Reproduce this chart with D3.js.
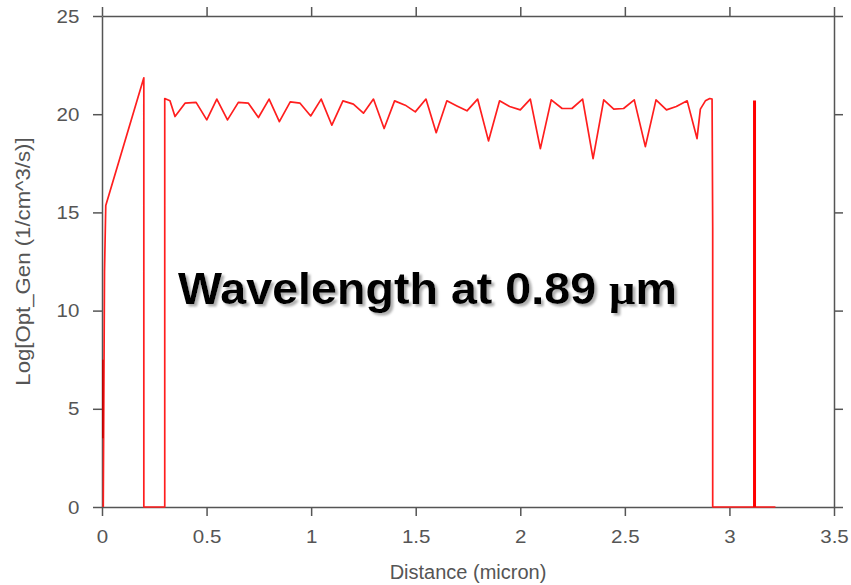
<!DOCTYPE html>
<html>
<head>
<meta charset="utf-8">
<script src="https://cdn.jsdelivr.net/npm/d3@7"></script>
<style>
  body { margin: 0; background: #fff; }
  svg { display: block; font-family: "Liberation Sans", Arial, sans-serif; }
</style>
</head>
<body>
<script>
// Optical generation profile along the device, log scale
const width = 851, height = 585;
const margin = { top: 16, right: 17, bottom: 78, left: 102 };

// main trace (micron, log10 of 1/cm^3/s)
const distX = [0.006, 0.012, 0.018, 0.2, 0.2, 0.3, 0.3,
    0.325, 0.349, 0.397, 0.45, 0.501, 0.549, 0.6, 0.652, 0.7, 0.748, 0.799, 0.848, 0.9, 0.947,
    0.998, 1.048, 1.099, 1.152, 1.202, 1.25, 1.298, 1.349, 1.399, 1.45, 1.498, 1.549, 1.598,
    1.649, 1.697, 1.745, 1.796, 1.848, 1.901, 1.949, 2.0, 2.048, 2.096, 2.148, 2.2, 2.247,
    2.298, 2.348, 2.399, 2.447, 2.494, 2.545, 2.598, 2.649, 2.699, 2.746, 2.798, 2.845,
    2.861, 2.885, 2.906, 2.917, 2.92, 2.92, 3.22];
const genY = [0, 12, 15.35, 21.85, 0, 0, 20.8,
    20.68, 19.88, 20.56, 20.6, 19.71, 20.77, 19.71, 20.6, 20.56, 19.83, 20.77, 19.62, 20.63, 20.56,
    19.91, 20.77, 19.44, 20.68, 20.51, 20.05, 20.77, 19.27, 20.68, 20.46, 20.12, 20.77, 19.06,
    20.68, 20.42, 20.17, 20.77, 18.64, 20.68, 20.39, 20.22, 20.77, 18.25, 20.73, 20.29, 20.29,
    20.77, 17.74, 20.73, 20.26, 20.29, 20.73, 18.35, 20.73, 20.22, 20.39, 20.68, 18.76,
    20.26, 20.68, 20.8, 20.77, 14.2, 0, 0];

// narrow spike near the back contact
const spikeX = [3.12, 3.12];
const spikeY = [0, 20.7];

// darker overlap at the front surface
const frontX = [0.004, 0.004];
const frontY = [3.5, 7.5];

const xTicks = [0, 0.5, 1, 1.5, 2, 2.5, 3, 3.5];
const yTicks = [0, 5, 10, 15, 20, 25];

const svg = d3.select("body").append("svg")
    .attr("width", width)
    .attr("height", height);

const defs = svg.append("defs");
defs.append("filter").attr("id", "shadow")
    .attr("x", "-5%").attr("y", "-20%").attr("width", "110%").attr("height", "140%")
    .append("feDropShadow")
    .attr("dx", 2.5).attr("dy", 2.5).attr("stdDeviation", 0.8)
    .attr("flood-color", "#999").attr("flood-opacity", 0.8);

const x = d3.scaleLinear().domain([0, 3.5]).range([margin.left, width - margin.right]);
const y = d3.scaleLinear().domain([0, 25]).range([height - margin.bottom, margin.top]);

const axisColor = "#555";

function styleAxis(g) {
    g.select(".domain").attr("stroke", axisColor).attr("stroke-width", 1.5);
    g.selectAll(".tick line").attr("stroke", axisColor).attr("stroke-width", 1.5);
    g.selectAll(".tick text").attr("fill", "#555").attr("font-size", 19);
}

const line = d3.line().x(d => x(d[0])).y(d => y(d[1]));

svg.append("g")
    .attr("transform", `translate(0,${y(0)})`)
    .call(d3.axisBottom(x).tickValues(xTicks).tickFormat(d3.format("")).tickSize(9).tickSizeOuter(0).tickPadding(14))
    .call(styleAxis)
    .call(g => g.selectAll(".tick text").attr("transform", "scale(1.08,1)"));

svg.append("g")
    .attr("transform", `translate(0,${y(25)})`)
    .call(d3.axisTop(x).tickValues(xTicks).tickFormat("").tickSize(9).tickSizeOuter(0))
    .call(styleAxis);

svg.append("g")
    .attr("transform", `translate(${x(0)},0)`)
    .call(d3.axisLeft(y).tickValues(yTicks).tickSize(9).tickSizeOuter(0).tickPadding(12))
    .call(styleAxis)
    .call(g => g.selectAll(".tick text").attr("transform", "scale(1.08,1)"));

svg.append("g")
    .attr("transform", `translate(${x(3.5)},0)`)
    .call(d3.axisRight(y).tickValues(yTicks).tickFormat("").tickSize(9).tickSizeOuter(0))
    .call(styleAxis);

svg.append("path")
    .datum(d3.zip(distX, genY))
    .attr("fill", "none")
    .attr("stroke", "#ff1e1e")
    .attr("stroke-width", 1.7)
    .attr("stroke-linejoin", "round")
    .attr("d", line);

svg.append("path")
    .datum(d3.zip(frontX, frontY))
    .attr("fill", "none")
    .attr("stroke", "#c00000")
    .attr("stroke-width", 1.6)
    .attr("d", line);

svg.append("path")
    .datum(d3.zip(spikeX, spikeY))
    .attr("fill", "none")
    .attr("stroke", "#ff0000")
    .attr("stroke-width", 3)
    .attr("d", line);

// axis titles
svg.append("text")
    .attr("x", (x(0) + x(3.5)) / 2)
    .attr("y", 579)
    .attr("text-anchor", "middle")
    .attr("font-size", 20)
    .attr("fill", "#555")
    .text("Distance (micron)");

svg.append("text")
    .attr("transform", `translate(30,${(y(0) + y(25)) / 2}) rotate(-90) scale(1.11,1)`)
    .attr("text-anchor", "middle")
    .attr("font-size", 20)
    .attr("fill", "#555")
    .text("Log[Opt_Gen (1/cm^3/s)]");

// annotation with drop shadow
const t = svg.append("text")
    .attr("transform", "translate(178,304) scale(1.06,1)")
    .attr("font-size", 44)
    .attr("font-weight", "bold")
    .attr("fill", "#000")
    .attr("filter", "url(#shadow)");
t.append("tspan").text("Wavelength at 0.89 ");
t.append("tspan").attr("font-family", "'Liberation Serif', serif").text("μ");
t.append("tspan").text("m");
</script>
</body>
</html>
